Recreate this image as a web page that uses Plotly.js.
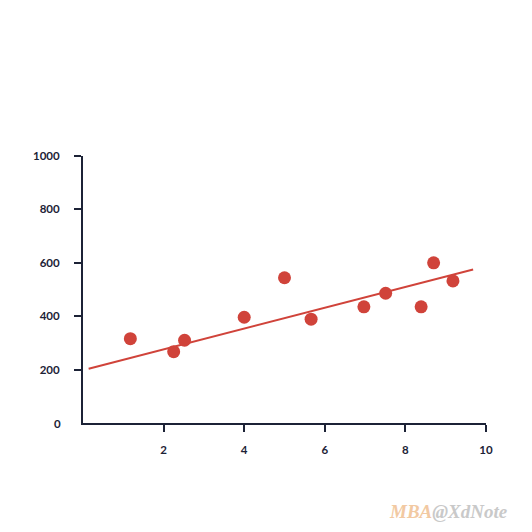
<!DOCTYPE html>
<html>
<head>
<meta charset="utf-8">
<script src="https://cdn.plot.ly/plotly-3.0.1.min.js"></script>
<style>
html,body{margin:0;padding:0;background:#fff;}
#chart{width:532px;height:532px;}
</style>
</head>
<body>
<div id="chart"></div>
<script>
var pointX = [1.175, 2.25, 2.52, 4.0, 5.0, 5.66, 6.97, 7.51, 8.39, 8.70, 9.18];
var pointY = [316, 267, 310, 396, 544, 389, 435, 486, 435, 600, 532];
var trendX = [0.14, 9.68];
var trendY = [203, 575];
var xTicks = [2, 4, 6, 8, 10];
var yTicks = [200, 400, 600, 800, 1000];
var yZeroLabel = '0';

var red = '#d0433a';
var navy = '#1c2236';

var traces = [
  {x: trendX, y: trendY, mode: 'lines', type: 'scatter',
   line: {color: red, width: 2}, hoverinfo: 'skip'},
  {x: pointX, y: pointY, mode: 'markers', type: 'scatter',
   marker: {color: red, size: 13, line: {width: 0}}}
];

var axisFont = {family: 'Lato, sans-serif', size: 11.5, color: navy, weight: 'bold'};

var layout = {
  width: 532, height: 532,
  margin: {l: 83, r: 46, t: 156, b: 109},
  paper_bgcolor: '#fff', plot_bgcolor: '#fff',
  showlegend: false,
  xaxis: {range: [0, 10], tickvals: xTicks, ticktext: xTicks.map(String),
          showgrid: false, zeroline: false, showline: true, linecolor: navy, linewidth: 2,
          ticks: 'outside', ticklen: 7, tickwidth: 2, tickcolor: navy,
          tickfont: axisFont, ticklabelstandoff: 8, fixedrange: true},
  yaxis: {range: [0, 1000], tickvals: yTicks, ticktext: yTicks.map(String),
          showgrid: false, zeroline: false, showline: true, linecolor: navy, linewidth: 2,
          ticks: 'outside', ticklen: 7, tickwidth: 2, tickcolor: navy,
          tickfont: axisFont, ticklabelstandoff: 12, fixedrange: true},
  annotations: [
    {xref: 'paper', yref: 'y', x: 0, y: 0, xanchor: 'right', yanchor: 'middle',
     xshift: -20, showarrow: false, text: yZeroLabel, font: axisFont},
    {xref: 'paper', yref: 'paper', x: 1.06, y: -0.33, xanchor: 'right', yanchor: 'middle',
     showarrow: false,
     text: '<span style="color:#f2c9a2">MBA</span><span style="color:#c9c9c9">@XdNote</span>',
     font: {family: 'Liberation Serif, serif', size: 19, style: 'italic', weight: 'bold'}}
  ]
};

Plotly.newPlot('chart', traces, layout, {displayModeBar: false, staticPlot: true});
</script>
</body>
</html>
